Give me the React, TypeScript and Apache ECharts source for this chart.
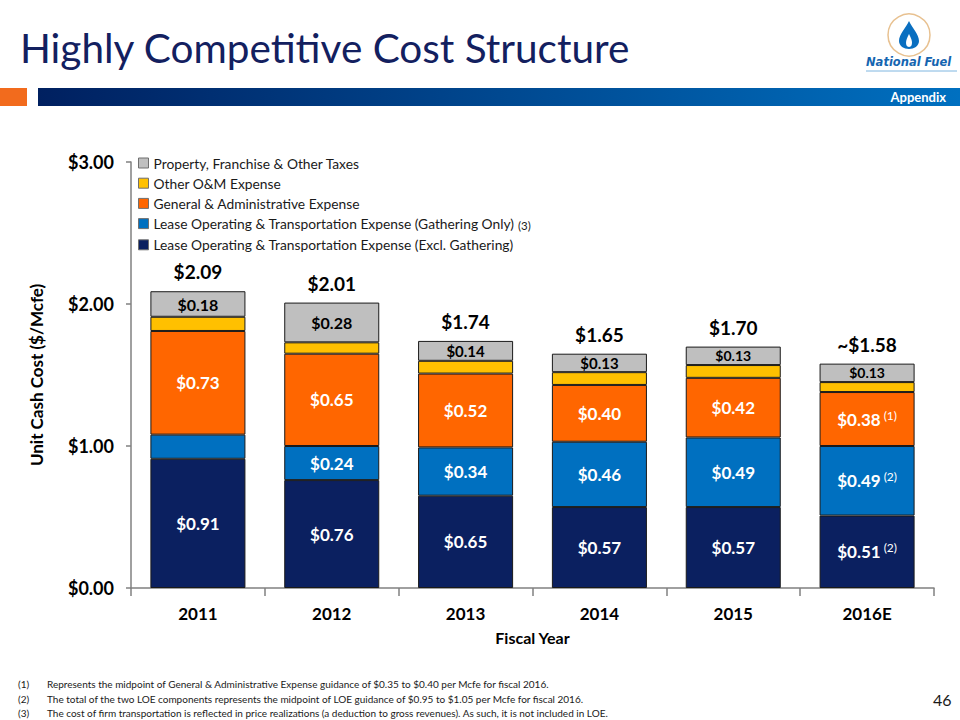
import React, { useEffect, useRef } from "react";
import * as echarts from "echarts";

const years = ["2011", "2012", "2013", "2014", "2015", "2016E"];
const loeExcl = [0.91, 0.76, 0.65, 0.57, 0.57, 0.51];
const loeGathering = [0.17, 0.24, 0.34, 0.46, 0.49, 0.49];
const gAndA = [0.73, 0.65, 0.52, 0.4, 0.42, 0.38];
const otherOM = [0.1, 0.08, 0.09, 0.09, 0.09, 0.07];
const taxes = [0.18, 0.28, 0.14, 0.13, 0.13, 0.13];
const totals = [2.09, 2.01, 1.74, 1.65, 1.7, 1.58];
const totalLabels = ["$2.09", "$2.01", "$1.74", "$1.65", "$1.70", "~$1.58"];
const gatheringShown = [false, true, true, true, true, true];
const loeExclNotes = ["", "", "", "", "", "(2)"];
const gatheringNotes = ["", "", "", "", "", "(2)"];
const gAndANotes = ["", "", "", "", "", "(1)"];
const taxLabelSizes = [16, 16, 15, 15, 14, 14];
const yTicks = ["$0.00", "$1.00", "$2.00", "$3.00"];

const seriesNames = [
  "Lease Operating & Transportation Expense (Excl. Gathering)",
  "Lease Operating & Transportation Expense (Gathering Only)",
  "General & Administrative Expense",
  "Other O&M Expense",
  "Property, Franchise & Other Taxes",
];
const colors = ["#0B2060", "#0070C0", "#FF6600", "#FFC000", "#BFBFBF"];

const footnotes = [
  "Represents the midpoint of General & Administrative Expense guidance of $0.35 to $0.40 per Mcfe for fiscal 2016.",
  "The total of the two LOE components represents the midpoint of LOE guidance of $0.95 to $1.05 per Mcfe for fiscal 2016.",
  "The cost of firm transportation is reflected in price realizations (a deduction to gross revenues). As such, it is not included in LOE.",
];

const FONT = "Lato, 'Open Sans', sans-serif";

echarts.graphic.registerShape(
  "drop",
  echarts.graphic.extendPath(
    "M0,-14 C3,-7 10,-1 10,6 C10,11 5,14 0,14 C-5,14 -10,11 -10,6 C-10,-1 -3,-7 0,-14 Z",
    {}
  )
);
echarts.graphic.registerShape(
  "flame",
  echarts.graphic.extendPath(
    "M0,-4 C2,0 3,2 3,5 C3,8 1,9 0,9 C-1,9 -3,8 -3,5 C-3,2 -2,0 0,-4 Z",
    {}
  )
);

function fmt(v: number) {
  return "$" + v.toFixed(2);
}

export default function App() {
  const ref = useRef<HTMLDivElement>(null);
  useEffect(() => {
    if (!ref.current) return;
    const chart = echarts.init(ref.current, undefined, { renderer: "svg" });

    const mkLabel = (
      notes: string[],
      shown: boolean[] | null,
      color: string,
      size: number
    ) => ({
      show: true,
      position: "inside",
      formatter: (p: any) => {
        if (shown && !shown[p.dataIndex]) return "";
        const n = notes ? notes[p.dataIndex] : "";
        return n ? `{v|${fmt(p.value)}}{n|${n}}` : `{v|${fmt(p.value)}}`;
      },
      rich: {
        v: { fontFamily: FONT, fontWeight: "bold", fontSize: size, color },
        n: {
          fontFamily: FONT,
          fontSize: 12,
          color,
          verticalAlign: "top",
          padding: [0, 0, 8, 3],
        },
      },
    });

    const barBase = {
      type: "bar",
      stack: "cost",
      barWidth: "71%",
      barGap: "-100%",
    };

    const option: any = {
      animation: false,
      textStyle: { fontFamily: FONT },
      grid: { left: 131, right: 26, top: 162, bottom: 132 },
      legend: {
        orient: "vertical",
        left: 133,
        top: 151,
        itemWidth: 10,
        itemHeight: 10,
        itemGap: 6.2,
        icon: "rect",
        itemStyle: { borderColor: "#6f6f6f", borderWidth: 1 },
        data: [
          seriesNames[4],
          seriesNames[3],
          seriesNames[2],
          seriesNames[1],
          seriesNames[0],
        ],
        formatter: (name: string) =>
          name === seriesNames[1] ? `${name} {s|(3)}` : name,
        textStyle: {
          fontFamily: FONT,
          fontSize: 13.8,
          color: "#1a1a1a",
          rich: {
            s: { fontFamily: FONT, fontSize: 11.5, color: "#1a1a1a", padding: [4, 0, 0, 0] },
          },
        },
      },
      xAxis: {
        type: "category",
        data: years,
        name: "Fiscal Year",
        nameLocation: "middle",
        nameGap: 41,
        nameTextStyle: { fontFamily: FONT, fontWeight: "bold", fontSize: 16, color: "#000" },
        axisLine: { lineStyle: { color: "#808080", width: 1.5 } },
        axisTick: { show: true, length: 8, lineStyle: { color: "#808080", width: 1.5 } },
        axisLabel: {
          fontFamily: FONT,
          fontWeight: "bold",
          fontSize: 17,
          color: "#000",
          margin: 17,
        },
      },
      yAxis: {
        type: "value",
        min: 0,
        max: 3,
        interval: 1,
        name: "Unit Cash Cost ($/Mcfe)",
        nameLocation: "middle",
        nameGap: 86,
        nameRotate: 90,
        nameTextStyle: { fontFamily: FONT, fontWeight: "bold", fontSize: 17, color: "#000" },
        splitLine: { show: false },
        axisLine: { show: true, lineStyle: { color: "#808080", width: 1.5 } },
        axisTick: { show: true, length: 5, lineStyle: { color: "#808080", width: 1.5 } },
        axisLabel: {
          fontFamily: FONT,
          fontWeight: "bold",
          fontSize: 18,
          color: "#000",
          margin: 17,
          formatter: (v: number) => yTicks[Math.round(v)] ?? "",
        },
      },
      series: [
        {
          type: "bar",
          name: "Total",
          data: totals,
          barWidth: "71%",
          barGap: "-100%",
          z: 1,
          silent: true,
          itemStyle: { color: "rgba(255,255,255,0)" },
          label: {
            show: true,
            position: "top",
            distance: 10,
            formatter: (p: any) => totalLabels[p.dataIndex],
            fontFamily: FONT,
            fontWeight: 700,
            fontSize: 19,
            color: "#000",
          },
        },
        {
          ...barBase,
          name: seriesNames[0],
          data: loeExcl,
          itemStyle: { color: colors[0], borderColor: "#1a1a1a", borderWidth: 1 },
          label: mkLabel(loeExclNotes, null, "#fff", 17),
        },
        {
          ...barBase,
          name: seriesNames[1],
          data: loeGathering,
          itemStyle: { color: colors[1], borderColor: "#1a1a1a", borderWidth: 1 },
          label: mkLabel(gatheringNotes, gatheringShown, "#fff", 17),
        },
        {
          ...barBase,
          name: seriesNames[2],
          data: gAndA,
          itemStyle: { color: colors[2], borderColor: "#1a1a1a", borderWidth: 1 },
          label: mkLabel(gAndANotes, null, "#fff", 17),
        },
        {
          ...barBase,
          name: seriesNames[3],
          data: otherOM,
          itemStyle: { color: colors[3], borderColor: "#1a1a1a", borderWidth: 1 },
        },
        {
          ...barBase,
          name: seriesNames[4],
          data: taxes,
          itemStyle: { color: colors[4], borderColor: "#1a1a1a", borderWidth: 1 },
          label: {
            show: true,
            position: "inside",
            formatter: (p: any) => `{t${p.dataIndex}|${fmt(p.value)}}`,
            rich: Object.fromEntries(
              taxLabelSizes.map((s, i) => [
                "t" + i,
                { fontFamily: FONT, fontWeight: "bold", fontSize: s, color: "#000" },
              ])
            ),
          },
        },
      ],
      graphic: [
        {
          type: "text",
          left: 20,
          top: 27,
          style: {
            text: "Highly Competitive Cost Structure",
            fontFamily: FONT,
            fontSize: 40.5,
            fill: "#13205F",
          },
        },
        {
          type: "rect",
          shape: { x: 0, y: 88, width: 27, height: 18 },
          style: { fill: "#F26B1D" },
        },
        {
          type: "rect",
          shape: { x: 38, y: 88, width: 922, height: 18 },
          style: {
            fill: new echarts.graphic.LinearGradient(0, 0, 1, 0, [
              { offset: 0, color: "#002060" },
              { offset: 1, color: "#0070C0" },
            ]),
          },
        },
        {
          type: "text",
          right: 14,
          top: 90,
          style: {
            text: "Appendix",
            fontFamily: FONT,
            fontWeight: "bold",
            fontSize: 13,
            fill: "#fff",
          },
        },
        {
          type: "circle",
          shape: { cx: 909, cy: 35, r: 21 },
          style: { fill: "#fff", stroke: "#E8C190", lineWidth: 1.5 },
        },
        {
          type: "drop",
          x: 909,
          y: 35,
          style: { fill: "#0A6FC0" },
        },
        {
          type: "flame",
          x: 909,
          y: 38,
          style: { fill: "#fff" },
        },
        {
          type: "text",
          x: 866,
          y: 56,
          style: {
            text: "National Fuel",
            fontFamily: "'DejaVu Sans', sans-serif",
            fontWeight: "bold",
            fontStyle: "italic",
            fontSize: 11.5,
            fill: "#1565B0",
          },
        },
        {
          type: "line",
          shape: { x1: 866, y1: 71, x2: 957, y2: 71 },
          style: { stroke: "#7EB6E0", lineWidth: 1 },
        },
        ...footnotes.flatMap((t, i) => [
          {
            type: "text",
            x: 18,
            y: 679 + i * 14.5,
            style: {
              text: `(${i + 1})`,
              fontFamily: FONT,
              fontSize: 10,
              fill: "#1a1a1a",
            },
          },
          {
            type: "text",
            x: 47,
            y: 679 + i * 14.5,
            style: {
              text: t,
              fontFamily: FONT,
              fontSize: 10,
              fill: "#1a1a1a",
            },
          },
        ]),
        {
          type: "text",
          x: 933,
          y: 691,
          style: {
            text: "46",
            fontFamily: FONT,
            fontSize: 16,
            fill: "#1a1a1a",
          },
        },
      ],
    };
    chart.setOption(option);
    return () => chart.dispose();
  }, []);
  return (
    <div
      ref={ref}
      style={{
        position: "fixed",
        left: 0,
        top: 0,
        width: 960,
        height: 720,
        background: "#fff",
      }}
    />
  );
}
